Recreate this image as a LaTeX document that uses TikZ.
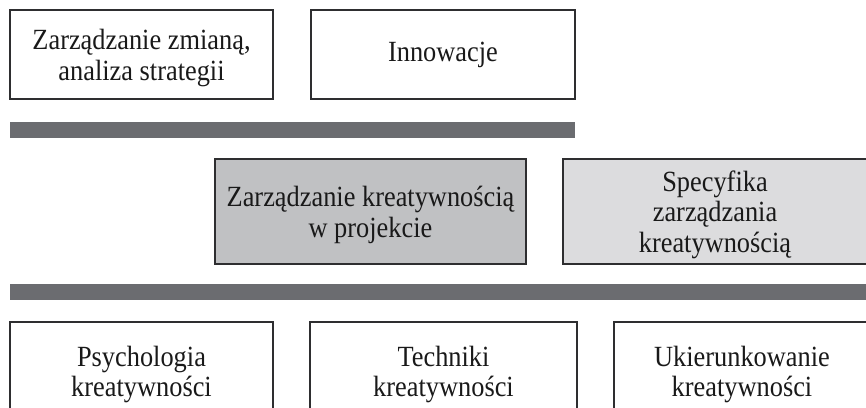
\documentclass[tikz,border=0pt]{standalone}
\usepackage{fontspec}
\setmainfont{Liberation Serif}[FakeStretch=0.9]
\definecolor{barcol}{HTML}{6B6C70}
\definecolor{midcol}{HTML}{C0C1C3}
\definecolor{lightcol}{HTML}{DCDCDE}
\definecolor{edgecol}{HTML}{2E2E30}
\tikzset{
  box/.style={draw=edgecol, line width=1.2pt, rectangle, align=center, inner sep=0pt,
    font=\fontsize{29.3}{30.8}\selectfont, text=black!90},
  lowtext/.style={text depth=0pt},
  bar/.style={fill=barcol, draw=none, rectangle, inner sep=0pt, minimum height=16pt}
}
\begin{document}
\begin{tikzpicture}[x=1pt,y=-1pt]
\useasboundingbox (0,0) rectangle (866,407);
\clip (0,0) rectangle (866,407);
\node[box, lowtext, minimum width=263pt, minimum height=89pt] (b1) at (141.5,54.5) {Zarządzanie zmianą,\\analiza strategii};
\node[box, minimum width=264pt, minimum height=89pt] (b2) at (443,54.5) {Innowacje};
\node[bar, minimum width=565pt] (bar1) at (292.5,130) {};
\node[box, lowtext, fill=midcol, minimum width=311pt, minimum height=105pt] (m1) at (370.5,211.5) {Zarządzanie kreatywnością\\w projekcie};
\node[box, lowtext, fill=lightcol, minimum width=304pt, minimum height=105pt] (m2) at (715,211.5) {Specyfika\\zarządzania\\kreatywnością};
\node[bar, minimum width=860pt] (bar2) at (440,292) {};
\node[box, minimum width=263pt, minimum height=105pt] (c1) at (141.5,374.5) {Psychologia\\kreatywności};
\node[box, minimum width=267pt, minimum height=105pt] (c2) at (443.5,374.5) {Techniki\\kreatywności};
\node[box, minimum width=256pt, minimum height=105pt] (c3) at (742,374.5) {Ukierunkowanie\\kreatywności};
\end{tikzpicture}
\end{document}
